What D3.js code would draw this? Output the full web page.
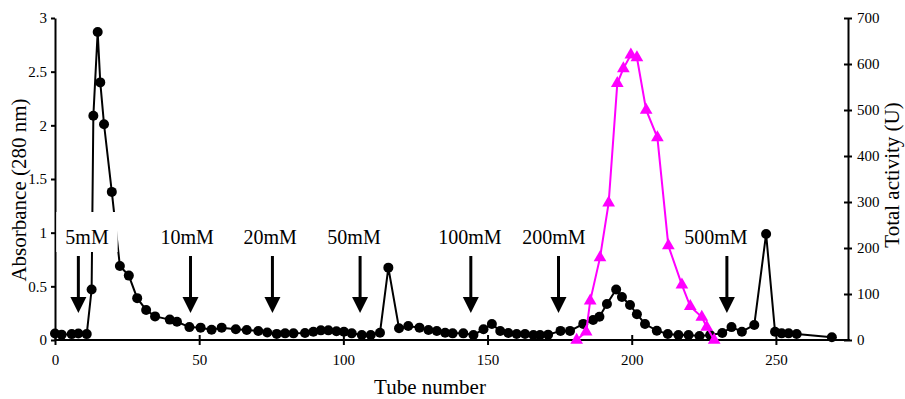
<!DOCTYPE html>
<html><head><meta charset="utf-8">
<script src="https://cdn.jsdelivr.net/npm/d3@7"></script>
<style>body{margin:0;background:#fff}svg{display:block}text{font-family:"Liberation Serif","Times New Roman",serif;fill:#000}</style>
</head><body><svg id="c" width="905" height="399"></svg>
<script>
// ---- data ----
const absTubes = [0,2.3,5.8,8.1,11,12.7,13.3,14.8,15.7,17,19.7,22.5,25.6,28.5,31.6,34.7,39.8,42.3,46.6,50.5,54.3,57.8,62.7,66.5,70.5,73.6,76.9,79.8,82.7,86.7,89.6,92.2,94.8,97.6,100.2,102.9,106.4,109.5,112.7,115.6,119.3,122.5,126.4,129.5,132.4,135.3,137.9,141.6,145.1,148.6,151.5,154.4,157.2,160.1,163,165.9,168.2,171,175.3,178.6,183.2,186.6,188.8,191.4,194.6,196.6,199.4,201.8,204.6,208.7,212.5,216.2,219.7,223.5,227.2,231.4,234.6,238.2,242.5,246.6,249.7,252,254.4,257.2,269.4];
const absValues = [0.06,0.05,0.055,0.06,0.055,0.47,2.09,2.87,2.40,2.01,1.38,0.69,0.60,0.39,0.28,0.22,0.19,0.17,0.12,0.115,0.095,0.115,0.10,0.093,0.084,0.07,0.057,0.062,0.062,0.065,0.077,0.09,0.09,0.082,0.077,0.062,0.047,0.047,0.068,0.674,0.11,0.13,0.115,0.093,0.084,0.068,0.062,0.062,0.047,0.10,0.149,0.084,0.065,0.056,0.056,0.047,0.047,0.05,0.085,0.085,0.15,0.187,0.217,0.335,0.47,0.40,0.326,0.24,0.149,0.087,0.056,0.047,0.047,0.037,0.047,0.065,0.12,0.077,0.14,0.988,0.077,0.062,0.062,0.056,0.025];
const actTubes = [180.9,184.2,185.6,189,192,195,197.1,199.7,201.8,205,208.9,212.7,217.4,220.3,224.3,226,228.6];
const actValues = [0,18,85,179,298,558,590,620,614,500,440,205,120,73,50,28,0];
const stepLabels = ["5mM","10mM","20mM","50mM","100mM","200mM","500mM"];
const stepArrowTubes = [8.1,47,75.4,105.8,144.2,174.6,233];
const stepLabelTubes = [11.1,45.8,74.6,103.7,143.9,173,229.2];
const xTicks = [0,50,100,150,200,250];
const yLeftTicks = [0,0.5,1,1.5,2,2.5,3];
const yRightTicks = [0,100,200,300,400,500,600,700];

// ---- layout ----
const svg = d3.select("#c");
const x = d3.scaleLinear().domain([0,275]).range([55,848]);
const yL = d3.scaleLinear().domain([0,3]).range([340,18]);
const yR = d3.scaleLinear().domain([0,700]).range([340,18]);

// axes
const gx = svg.append("g").attr("transform","translate(0,340)")
  .call(d3.axisBottom(x).tickValues(xTicks).tickFormat(d3.format("d")).tickSize(5).tickSizeOuter(0));
gx.select(".domain").attr("d","M55,0H850");
gx.selectAll(".tick line").attr("y1",-5).attr("y2",5);
gx.selectAll(".tick text").attr("y",14);
const gl = svg.append("g").attr("transform","translate(55,0)")
  .call(d3.axisLeft(yL).tickValues(yLeftTicks).tickFormat(d=>String(d)).tickSize(4).tickSizeOuter(0));
gl.selectAll(".tick text").attr("x",-8);
const gr = svg.append("g").attr("transform","translate(848,0)")
  .call(d3.axisRight(yR).tickValues(yRightTicks).tickFormat(d3.format("d")).tickSize(4).tickSizeOuter(0));
gr.selectAll(".tick line").attr("x1",-4).attr("x2",4);
gr.selectAll(".tick text").attr("x",9);
svg.selectAll(".domain,.tick line").attr("stroke","#000").attr("stroke-width",2);
svg.selectAll(".tick text").attr("font-size",15).attr("font-family","Liberation Serif").attr("fill","#000");

// absorbance series
const absData = absTubes.map((t,i)=>({t,v:absValues[i]}));
svg.append("path").datum(absData).attr("fill","none").attr("stroke","#000").attr("stroke-width",2)
  .attr("d",d3.line().x(d=>x(d.t)).y(d=>yL(d.v)));
svg.append("g").selectAll("circle").data(absData).join("circle")
  .attr("cx",d=>x(d.t)).attr("cy",d=>yL(d.v)).attr("r",5).attr("fill","#000");

// activity series
const actData = actTubes.map((t,i)=>({t,v:actValues[i]}));
svg.append("path").datum(actData).attr("fill","none").attr("stroke","#ff00ff").attr("stroke-width",2)
  .attr("d",d3.line().x(d=>x(d.t)).y(d=>yR(d.v)));
const tri = d3.symbol().type(d3.symbolTriangle).size(70);
svg.append("g").selectAll("path").data(actData).join("path")
  .attr("d",tri).attr("fill","#ff00ff")
  .attr("transform",d=>`translate(${x(d.t)},${yR(d.v)})`);

// step labels and arrows
const base = 244;
stepLabels.forEach((lab,i)=>{
  const cx = x(stepLabelTubes[i]);
  const g = svg.append("g");
  const t = g.append("text").attr("x",cx).attr("y",base).attr("text-anchor","middle")
    .attr("font-size",20).text(lab);
  const w = t.node().getComputedTextLength();
  g.insert("rect","text").attr("x",cx-w/2-9).attr("y",base-32).attr("width",w+18).attr("height",40).attr("fill","#fff");
  const ax = x(stepArrowTubes[i]);
  g.append("line").attr("x1",ax).attr("x2",ax).attr("y1",256).attr("y2",300).attr("stroke","#000").attr("stroke-width",3);
  g.append("path").attr("d",`M${ax-8},297L${ax+8},297L${ax},313Z`).attr("fill","#000");
});

// axis titles
svg.append("text").attr("transform","translate(26,190) rotate(-90)").attr("text-anchor","middle")
  .attr("font-size",21).text("Absorbance  (280 nm)");
svg.append("text").attr("transform","translate(899,175) rotate(-90)").attr("text-anchor","middle")
  .attr("font-size",21).text("Total activity (U)");
svg.append("text").attr("x",430).attr("y",394).attr("text-anchor","middle")
  .attr("font-size",21).text("Tube number");
</script></body></html>
